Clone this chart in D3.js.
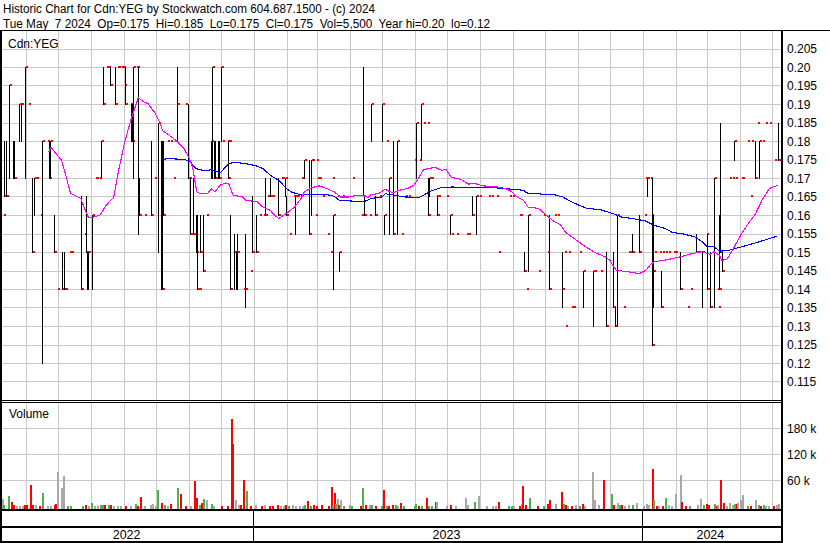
<!DOCTYPE html>
<html><head><meta charset="utf-8">
<script src="https://cdn.jsdelivr.net/npm/d3@7"></script>
<style>
body{margin:0;background:#fff}
svg{display:block}
text{font-family:"Liberation Sans",Arial,sans-serif;fill:#000}
</style>
</head><body>
<svg id="c" width="830" height="543"></svg>
<script>
const headerLine1 = "Historic Chart for Cdn:YEG by Stockwatch.com 604.687.1500 - (c) 2024";
const headerLine2 = "Tue May  7 2024  Op=0.175  Hi=0.185  Lo=0.175  Cl=0.175  Vol=5,500  Year hi=0.20  lo=0.12";
const symbolLabel = "Cdn:YEG";
const volumeLabel = "Volume";
const priceTicks = [0.205,0.20,0.195,0.19,0.185,0.18,0.175,0.17,0.165,0.16,0.155,0.15,0.145,0.14,0.135,0.13,0.125,0.12,0.115];
const priceTickLabels = ["0.205","0.20","0.195","0.19","0.185","0.18","0.175","0.17","0.165","0.16","0.155","0.15","0.145","0.14","0.135","0.13","0.125","0.12","0.115"];
const volumeTicks = [60000,120000,180000];
const volumeTickLabels = ["60 k","120 k","180 k"];
const yearLabels = ["2022","2023","2024"];

// [date, high, low, close]
const priceBars = [
["2022-05-10",.16,.16,.16],["2022-05-11",.18,.165,.165],["2022-05-13",.18,.165,.165],["2022-05-16",.195,.17,.195],
["2022-05-19",.18,.17,.17],["2022-05-20",.18,.17,.17],["2022-05-25",.19,.18,.19],["2022-05-27",.19,.18,.19],
["2022-05-31",.20,.17,.20],["2022-06-02",.19,.19,.19],["2022-06-06",.17,.15,.15],["2022-06-08",.17,.16,.17],
["2022-06-09",.17,.17,.17],["2022-06-10",.17,.17,.17],["2022-06-14",.16,.16,.16],["2022-06-16",.18,.12,.18],
["2022-06-20",.18,.18,.18],["2022-06-22",.18,.17,.17],["2022-06-23",.18,.17,.18],["2022-06-27",.16,.15,.15],
["2022-06-30",.14,.14,.14],["2022-07-04",.15,.14,.14],["2022-07-06",.15,.14,.14],["2022-07-07",.14,.14,.14],
["2022-07-11",.15,.15,.15],["2022-07-13",.15,.15,.15],["2022-07-22",.165,.14,.14],["2022-07-25",.155,.155,.155],
["2022-07-27",.165,.15,.15],["2022-07-28",.15,.14,.15],["2022-07-29",.15,.14,.15],["2022-08-02",.16,.14,.16],
["2022-08-04",.17,.17,.17],["2022-08-05",.17,.17,.17],["2022-08-08",.17,.17,.17],["2022-08-10",.18,.17,.18],
["2022-08-12",.20,.19,.19],["2022-08-15",.20,.20,.20],["2022-08-16",.20,.20,.20],["2022-08-17",.20,.20,.20],
["2022-08-18",.20,.195,.195],["2022-08-23",.20,.19,.19],["2022-08-25",.20,.20,.20],["2022-08-26",.20,.20,.20],
["2022-08-29",.20,.20,.20],["2022-08-31",.20,.20,.20],["2022-09-01",.195,.195,.195],["2022-09-02",.20,.19,.19],
["2022-09-06",.19,.19,.19],["2022-09-07",.19,.18,.18],["2022-09-08",.19,.18,.18],["2022-09-09",.20,.17,.20],
["2022-09-12",.20,.20,.20],["2022-09-13",.20,.20,.20],["2022-09-14",.20,.155,.16],["2022-09-15",.17,.16,.16],
["2022-09-19",.16,.16,.16],["2022-09-26",.18,.16,.16],["2022-09-29",.17,.17,.17],["2022-10-03",.185,.15,.185],
["2022-10-05",.18,.14,.14],["2022-10-06",.18,.14,.14],["2022-10-07",.18,.16,.16],["2022-10-11",.18,.18,.18],
["2022-10-14",.18,.18,.18],["2022-10-17",.17,.17,.17],["2022-10-18",.18,.18,.18],["2022-10-20",.20,.18,.19],
["2022-10-28",.19,.19,.19],["2022-10-31",.19,.17,.17],["2022-11-01",.17,.17,.17],["2022-11-02",.17,.155,.155],
["2022-11-04",.17,.155,.155],["2022-11-07",.16,.15,.15],["2022-11-08",.16,.14,.14],["2022-11-10",.14,.14,.14],
["2022-11-11",.16,.15,.15],["2022-11-14",.16,.145,.145],["2022-11-17",.16,.16,.16],["2022-11-21",.18,.17,.18],
["2022-11-22",.20,.17,.20],["2022-11-24",.18,.17,.17],["2022-11-25",.18,.17,.17],["2022-11-28",.18,.17,.17],
["2022-11-29",.18,.17,.17],["2022-12-01",.20,.18,.20],["2022-12-02",.18,.18,.18],["2022-12-06",.18,.18,.18],
["2022-12-07",.18,.17,.17],["2022-12-08",.18,.18,.18],["2022-12-09",.16,.14,.14],["2022-12-12",.15,.15,.15],
["2022-12-13",.155,.14,.15],["2022-12-15",.15,.14,.15],["2022-12-16",.155,.14,.15],["2022-12-21",.14,.14,.14],
["2022-12-23",.155,.135,.14],["2022-12-28",.145,.145,.145],["2022-12-30",.165,.15,.15],["2023-01-03",.16,.15,.15],
["2023-01-05",.16,.16,.16],["2023-01-09",.16,.16,.16],["2023-01-11",.17,.16,.16],["2023-01-13",.165,.165,.165],
["2023-01-16",.17,.165,.165],["2023-01-18",.165,.165,.165],["2023-01-23",.17,.16,.16],["2023-01-26",.17,.17,.17],
["2023-01-27",.17,.17,.17],["2023-01-30",.17,.165,.17],["2023-01-31",.165,.16,.16],["2023-02-03",.155,.155,.155],
["2023-02-06",.165,.165,.165],["2023-02-07",.165,.165,.165],["2023-02-08",.165,.155,.165],["2023-02-10",.165,.165,.165],
["2023-02-14",.17,.17,.17],["2023-02-17",.175,.17,.175],["2023-02-21",.175,.155,.155],["2023-02-23",.175,.16,.175],
["2023-02-24",.175,.175,.175],["2023-02-27",.16,.16,.16],["2023-02-28",.175,.175,.175],["2023-03-01",.17,.17,.17],
["2023-03-03",.17,.17,.17],["2023-03-06",.165,.165,.165],["2023-03-10",.155,.155,.155],["2023-03-13",.15,.15,.15],
["2023-03-15",.17,.17,.17],["2023-03-16",.16,.14,.16],["2023-03-20",.165,.165,.165],["2023-03-22",.15,.145,.15],
["2023-03-24",.165,.165,.165],["2023-04-03",.17,.17,.17],["2023-04-11",.16,.16,.16],["2023-04-13",.20,.165,.165],
["2023-04-14",.165,.16,.16],["2023-04-19",.16,.16,.16],["2023-04-21",.19,.18,.19],["2023-04-24",.165,.16,.16],
["2023-04-28",.165,.165,.165],["2023-05-01",.19,.18,.19],["2023-05-03",.16,.155,.16],["2023-05-05",.18,.18,.18],
["2023-05-08",.17,.155,.17],["2023-05-11",.18,.155,.155],["2023-05-15",.18,.155,.18],["2023-05-19",.155,.155,.155],
["2023-05-23",.165,.165,.165],["2023-05-25",.165,.165,.165],["2023-05-31",.175,.175,.175],["2023-06-02",.185,.17,.185],
["2023-06-05",.175,.175,.175],["2023-06-07",.19,.175,.19],["2023-06-09",.185,.185,.185],["2023-06-12",.185,.185,.185],
["2023-06-13",.17,.16,.16],["2023-06-14",.17,.165,.17],["2023-06-15",.17,.17,.17],["2023-06-16",.17,.17,.17],
["2023-06-21",.165,.165,.165],["2023-06-22",.165,.16,.16],["2023-06-23",.165,.165,.165],["2023-06-30",.165,.165,.165],
["2023-07-04",.16,.155,.16],["2023-07-05",.155,.155,.155],["2023-07-10",.155,.155,.155],["2023-07-19",.155,.155,.155],
["2023-07-21",.155,.155,.155],["2023-07-25",.165,.16,.16],["2023-07-28",.165,.155,.165],["2023-07-31",.165,.165,.165],
["2023-08-09",.165,.165,.165],["2023-08-11",.165,.165,.165],["2023-08-16",.165,.165,.165],["2023-08-18",.15,.15,.15],
["2023-08-28",.165,.165,.165],["2023-08-31",.165,.165,.165],["2023-09-07",.16,.16,.16],["2023-09-08",.16,.16,.16],
["2023-09-11",.15,.145,.145],["2023-09-13",.14,.14,.14],["2023-09-15",.16,.145,.16],["2023-09-25",.145,.145,.145],
["2023-09-29",.16,.16,.16],["2023-10-03",.15,.15,.15],["2023-10-05",.16,.14,.14],["2023-10-10",.16,.16,.16],
["2023-10-12",.16,.16,.16],["2023-10-17",.15,.135,.14],["2023-10-19",.15,.15,.15],["2023-10-20",.13,.13,.13],
["2023-10-23",.15,.15,.15],["2023-10-26",.135,.135,.135],["2023-10-27",.135,.135,.135],["2023-11-02",.15,.15,.15],
["2023-11-06",.145,.135,.145],["2023-11-15",.145,.13,.145],["2023-11-16",.145,.145,.145],["2023-11-22",.145,.145,.145],
["2023-11-27",.15,.13,.13],["2023-12-04",.15,.135,.135],["2023-12-06",.135,.13,.13],["2023-12-08",.16,.13,.16],
["2023-12-13",.135,.135,.135],["2023-12-18",.15,.15,.15],["2023-12-20",.15,.15,.15],["2023-12-22",.155,.15,.15],
["2023-12-28",.16,.15,.15],["2024-01-02",.16,.16,.16],["2024-01-03",.17,.17,.17],["2024-01-05",.17,.165,.17],
["2024-01-08",.17,.17,.17],["2024-01-09",.16,.16,.16],["2024-01-10",.17,.125,.125],["2024-01-11",.16,.135,.145],
["2024-01-12",.15,.15,.15],["2024-01-16",.15,.15,.15],["2024-01-18",.145,.135,.135],["2024-01-19",.15,.15,.15],
["2024-01-22",.15,.15,.15],["2024-01-25",.15,.15,.15],["2024-01-29",.15,.15,.15],["2024-01-31",.15,.15,.15],
["2024-02-05",.15,.14,.14],["2024-02-12",.135,.135,.135],["2024-02-14",.14,.14,.14],["2024-02-20",.155,.15,.15],
["2024-02-22",.15,.15,.15],["2024-02-26",.15,.135,.15],["2024-02-29",.155,.155,.155],["2024-03-01",.155,.14,.14],
["2024-03-04",.15,.135,.135],["2024-03-06",.15,.15,.15],["2024-03-08",.17,.135,.17],["2024-03-11",.14,.14,.14],
["2024-03-12",.135,.135,.135],["2024-03-13",.16,.14,.14],["2024-03-14",.185,.15,.15],["2024-03-15",.15,.145,.145],
["2024-03-22",.17,.17,.17],["2024-03-25",.17,.17,.17],["2024-03-27",.18,.175,.18],["2024-03-28",.17,.17,.17],
["2024-04-02",.17,.17,.17],["2024-04-03",.17,.17,.17],["2024-04-08",.18,.18,.18],["2024-04-11",.165,.165,.165],
["2024-04-12",.18,.18,.18],["2024-04-15",.18,.17,.17],["2024-04-17",.185,.185,.185],["2024-04-19",.18,.17,.18],
["2024-04-22",.18,.18,.18],["2024-04-25",.185,.185,.185],["2024-04-29",.185,.185,.185],["2024-05-03",.175,.175,.175],
["2024-05-07",.185,.175,.175]
];

// short moving average (magenta)
const maShort = [
["2022-06-22",.1772],["2022-06-24",.1784],["2022-07-04",.1749],["2022-07-08",.1708],["2022-07-12",.1664],["2022-07-13",.1659],
["2022-07-22",.1646],["2022-07-25",.1623],["2022-07-29",.1596],["2022-08-02",.1595],["2022-08-09",.1601],["2022-08-15",.1628],
["2022-08-22",.1650],["2022-08-26",.1714],["2022-09-01",.1795],["2022-09-07",.1858],["2022-09-14",.1918],["2022-09-19",.1907],
["2022-09-23",.1903],["2022-09-30",.1876],["2022-10-04",.1853],["2022-10-07",.1829],["2022-10-13",.1817],["2022-10-19",.1804],
["2022-10-27",.1781],["2022-11-01",.1754],["2022-11-04",.1731],["2022-11-08",.1664],["2022-11-11",.1659],["2022-11-18",.1659],
["2022-11-22",.1673],["2022-11-25",.1664],["2022-11-30",.1682],["2022-12-05",.1688],["2022-12-08",.1686],["2022-12-12",.1655],
["2022-12-21",.1650],["2022-12-24",.1641],["2023-01-04",.1637],["2023-01-09",.1623],["2023-01-16",.1614],["2023-01-20",.1601],
["2023-01-24",.1592],["2023-01-31",.1605],["2023-02-08",.1623],["2023-02-14",.1646],["2023-02-17",.1664],["2023-02-24",.1675],
["2023-03-03",.1680],["2023-03-10",.1673],["2023-03-17",.1664],["2023-03-23",.1650],["2023-03-31",.1650],["2023-04-05",.1653],
["2023-04-13",.1653],["2023-04-18",.1649],["2023-04-21",.1657],["2023-04-28",.1659],["2023-05-04",.1671],["2023-05-11",.1661],
["2023-05-17",.1668],["2023-05-25",.1673],["2023-05-31",.1682],["2023-06-05",.1704],["2023-06-09",.1724],["2023-06-14",.1727],
["2023-06-20",.1730],["2023-06-26",.1722],["2023-06-30",.1725],["2023-07-05",.1703],["2023-07-14",.1698],["2023-07-21",.1685],
["2023-07-28",.1686],["2023-08-04",.1680],["2023-08-11",.1679],["2023-08-18",.1677],["2023-08-25",.1673],["2023-08-31",.1664],
["2023-09-05",.1650],["2023-09-11",.1641],["2023-09-15",.1623],["2023-09-25",.1619],["2023-10-02",.1602],["2023-10-09",.1585],
["2023-10-16",.1574],["2023-10-20",.1556],["2023-10-27",.1541],["2023-11-06",.1520],["2023-11-17",.1500],["2023-11-27",.1488],
["2023-12-01",.1479],["2023-12-07",.1452],["2023-12-18",.1448],["2023-12-29",.1443],["2024-01-04",.1452],["2024-01-09",.1470],
["2024-01-12",.1475],["2024-01-25",.1481],["2024-02-05",.1488],["2024-02-16",.1497],["2024-02-26",.1502],["2024-03-04",.1495],
["2024-03-08",.1502],["2024-03-13",.1493],["2024-03-15",.1479],["2024-03-20",.1481],["2024-03-27",.1515],["2024-04-01",.1542],
["2024-04-08",.1574],["2024-04-16",.1605],["2024-04-22",.1641],["2024-04-29",.1673],["2024-05-07",.1682]
];

// long moving average (blue)
const maLong = [
["2022-10-06",.1751],["2022-10-13",.1754],["2022-10-28",.1751],["2022-11-02",.1745],["2022-11-07",.1727],["2022-11-14",.1722],
["2022-11-18",.1722],["2022-11-22",.1724],["2022-11-30",.1715],["2022-12-08",.1741],["2022-12-14",.1743],["2022-12-23",.1741],
["2023-01-03",.1734],["2023-01-09",.1727],["2023-01-16",.1709],["2023-01-25",.1693],["2023-01-31",.1673],["2023-02-06",.1662],
["2023-02-15",.1655],["2023-02-27",.1658],["2023-03-09",.1657],["2023-03-17",.1652],["2023-03-22",.1641],["2023-04-03",.1639],
["2023-04-14",.1637],["2023-04-21",.1646],["2023-05-01",.1650],["2023-05-04",.1659],["2023-05-12",.1655],["2023-05-23",.1650],
["2023-06-05",.1649],["2023-06-09",.1655],["2023-06-16",.1666],["2023-06-26",.1676],["2023-07-06",.1677],["2023-07-18",.1676],
["2023-08-11",.1676],["2023-08-31",.1671],["2023-09-11",.1668],["2023-09-14",.1661],["2023-09-22",.1659],["2023-10-03",.1657],
["2023-10-10",.1656],["2023-10-18",.1650],["2023-10-26",.1637],["2023-11-02",.1628],["2023-11-10",.1619],["2023-11-22",.1616],
["2023-12-04",.1605],["2023-12-12",.1596],["2023-12-22",.1592],["2024-01-04",.1585],["2024-01-11",.1574],["2024-01-22",.1565],
["2024-01-29",.1554],["2024-02-07",.1551],["2024-02-19",.1542],["2024-02-26",.1529],["2024-03-01",.1517],["2024-03-08",.1515],
["2024-03-13",.1504],["2024-03-22",.1506],["2024-03-28",.1511],["2024-04-05",.1517],["2024-04-16",.1526],["2024-04-26",.1535],
["2024-05-06",.1544]
];

// [date, volume, direction] u = up (green), d = down (red), f = unchanged (grey)
const volumeBars = [
["2022-05-09",18000,"f"],["2022-05-10",2000,"u"],["2022-05-15",24000,"u"],["2022-05-17",10000,"d"],["2022-05-19",2000,"d"],
["2022-05-22",1500,"f"],["2022-05-25",1500,"f"],["2022-05-28",1500,"f"],["2022-05-30",2500,"d"],["2022-06-01",2500,"d"],
["2022-06-04",49000,"d"],["2022-06-06",2500,"d"],["2022-06-09",2000,"f"],["2022-06-13",1500,"d"],["2022-06-16",31000,"u"],
["2022-06-20",1500,"f"],["2022-06-23",1500,"f"],["2022-06-27",2500,"d"],["2022-06-28",5000,"d"],["2022-06-30",79000,"f"],
["2022-07-03",42000,"f"],["2022-07-05",70000,"f"],["2022-07-09",1000,"u"],["2022-07-12",1000,"u"],["2022-07-23",1000,"u"],
["2022-07-26",2500,"d"],["2022-07-29",1000,"f"],["2022-08-01",8000,"u"],["2022-08-03",1500,"f"],["2022-08-06",1500,"f"],
["2022-08-09",3000,"u"],["2022-08-11",3000,"u"],["2022-08-13",2000,"d"],["2022-08-17",3000,"u"],["2022-08-18",3000,"d"],
["2022-08-21",1500,"f"],["2022-08-25",1500,"f"],["2022-08-28",1500,"f"],["2022-09-02",1500,"d"],["2022-09-06",1500,"f"],
["2022-09-11",5000,"u"],["2022-09-13",1500,"d"],["2022-09-16",22000,"d"],["2022-09-19",1500,"f"],["2022-09-25",2000,"f"],
["2022-09-27",5000,"f"],["2022-09-30",1500,"f"],["2022-10-02",37500,"u"],["2022-10-05",7000,"d"],["2022-10-08",2000,"u"],
["2022-10-11",1500,"f"],["2022-10-14",5000,"d"],["2022-10-20",42000,"u"],["2022-10-23",28000,"d"],["2022-10-28",1500,"d"],
["2022-11-02",1500,"f"],["2022-11-05",59000,"d"],["2022-11-07",18500,"d"],["2022-11-10",2500,"u"],["2022-11-12",8000,"d"],
["2022-11-14",16000,"u"],["2022-11-17",14000,"f"],["2022-11-21",5000,"u"],["2022-11-23",1500,"f"],["2022-12-01",1500,"d"],
["2022-12-06",1500,"d"],["2022-12-10",201000,"d"],["2022-12-11",144000,"d"],["2022-12-14",14000,"f"],["2022-12-17",2000,"f"],
["2022-12-19",4000,"d"],["2022-12-21",60700,"d"],["2022-12-24",35000,"u"],["2022-12-28",1500,"d"],["2023-01-02",2000,"f"],
["2023-01-07",1500,"d"],["2023-01-10",4000,"f"],["2023-01-15",1500,"d"],["2023-01-18",1500,"d"],["2023-01-22",2500,"d"],
["2023-01-25",1500,"f"],["2023-01-28",1500,"f"],["2023-01-30",2500,"d"],["2023-02-02",1000,"u"],["2023-02-05",2500,"f"],
["2023-02-08",1500,"f"],["2023-02-12",1000,"f"],["2023-02-15",1000,"f"],["2023-02-17",2000,"u"],["2023-02-20",13000,"d"],
["2023-02-22",1500,"u"],["2023-02-25",2500,"d"],["2023-02-28",1500,"d"],["2023-03-05",2500,"d"],["2023-03-11",800,"d"],
["2023-03-14",44600,"d"],["2023-03-15",1500,"u"],["2023-03-17",31500,"d"],["2023-03-18",5000,"u"],["2023-03-20",18000,"f"],
["2023-03-21",2500,"d"],["2023-03-23",15000,"f"],["2023-03-25",1000,"u"],["2023-03-31",2500,"f"],["2023-04-02",1000,"u"],
["2023-04-10",800,"d"],["2023-04-12",42000,"u"],["2023-04-15",4000,"d"],["2023-04-19",2500,"f"],["2023-04-21",4000,"u"],
["2023-04-24",1500,"d"],["2023-04-30",800,"u"],["2023-05-02",37600,"d"],["2023-05-05",1000,"u"],["2023-05-07",1000,"d"],
["2023-05-10",3500,"d"],["2023-05-13",2000,"u"],["2023-05-15",1000,"f"],["2023-05-18",8000,"d"],["2023-05-21",800,"u"],
["2023-05-31",1000,"u"],["2023-06-01",5000,"u"],["2023-06-04",1000,"d"],["2023-06-07",1500,"u"],["2023-06-11",19000,"d"],
["2023-06-13",800,"u"],["2023-06-16",800,"u"],["2023-06-20",10000,"d"],["2023-06-21",10000,"f"],["2023-06-30",1000,"f"],
["2023-07-04",3500,"d"],["2023-07-09",1000,"f"],["2023-07-18",19000,"f"],["2023-07-20",2000,"f"],["2023-07-26",9500,"u"],
["2023-07-30",23800,"f"],["2023-08-07",800,"f"],["2023-08-12",800,"f"],["2023-08-15",800,"f"],["2023-08-18",11000,"d"],
["2023-08-27",800,"u"],["2023-08-30",800,"u"],["2023-09-01",800,"f"],["2023-09-07",800,"d"],["2023-09-09",4500,"f"],
["2023-09-10",48000,"d"],["2023-09-12",3500,"d"],["2023-09-16",19000,"u"],["2023-09-24",800,"d"],["2023-09-29",800,"u"],
["2023-10-03",4500,"d"],["2023-10-05",14000,"d"],["2023-10-11",5000,"f"],["2023-10-16",33000,"d"],["2023-10-18",5000,"u"],
["2023-10-20",2000,"d"],["2023-10-22",1500,"f"],["2023-10-26",1500,"d"],["2023-10-29",3000,"f"],["2023-11-02",800,"u"],
["2023-11-05",5000,"d"],["2023-11-07",1500,"f"],["2023-11-14",80000,"f"],["2023-11-16",14000,"f"],["2023-11-20",4000,"f"],
["2023-11-25",60700,"d"],["2023-12-02",28000,"u"],["2023-12-04",2000,"d"],["2023-12-08",7000,"f"],["2023-12-10",2000,"u"],
["2023-12-12",4000,"d"],["2023-12-14",1500,"f"],["2023-12-18",3000,"f"],["2023-12-22",3000,"u"],["2023-12-26",7000,"f"],
["2024-01-01",1500,"f"],["2024-01-04",5000,"f"],["2024-01-06",2500,"f"],["2024-01-10",86000,"d"],["2024-01-11",15000,"u"],
["2024-01-13",1500,"d"],["2024-01-15",1500,"f"],["2024-01-19",1500,"d"],["2024-01-22",19000,"u"],["2024-01-25",2000,"f"],
["2024-01-28",1500,"f"],["2024-01-31",28000,"f"],["2024-02-05",72000,"f"],["2024-02-06",11000,"d"],["2024-02-10",1500,"d"],
["2024-02-13",1500,"u"],["2024-02-21",3000,"f"],["2024-02-24",18000,"f"],["2024-02-27",4000,"u"],["2024-02-29",5000,"d"],
["2024-03-02",2000,"d"],["2024-03-08",5000,"u"],["2024-03-10",1500,"d"],["2024-03-11",3000,"f"],["2024-03-14",60700,"d"],
["2024-03-16",6500,"d"],["2024-03-19",1500,"f"],["2024-03-22",7000,"f"],["2024-03-25",3000,"f"],["2024-03-27",5000,"u"],
["2024-03-29",5000,"d"],["2024-03-30",7000,"f"],["2024-04-01",15000,"f"],["2024-04-03",26000,"f"],["2024-04-08",1000,"u"],
["2024-04-11",1500,"d"],["2024-04-15",14000,"f"],["2024-04-18",3000,"u"],["2024-04-20",1500,"d"],["2024-04-23",3000,"u"],
["2024-04-25",1500,"f"],["2024-04-28",1500,"f"],["2024-05-02",800,"d"],["2024-05-05",3000,"f"],["2024-05-07",5500,"f"]
];

const volColors = {u:"#4cb34c", d:"#ff0000", f:"#a8a8a8"};

// ---------- drawing ----------
const svg = d3.select("#c");
const parse = d3.timeParse("%Y-%m-%d");
const startDate = parse("2022-05-09"), endDate = parse("2024-05-08");
const PL = 2, PR = 781;            // plot left / right
const PT = 31, PB = 400;           // price panel
const VT = 403, VB = 509;          // volume panel
const x = d3.scaleTime().domain([startDate, endDate]).range([2, 779]);
const yP = d3.scaleLinear().domain([0.11, 0.21]).range([400.5, 30.5]);
const yV = d3.scaleLinear().domain([0, 240000]).range([506.3, 402.3]);
const px = d => Math.round(x(d));

svg.append("rect").attr("width",830).attr("height",543).attr("fill","#fff");

const defs = svg.append("defs");
defs.append("clipPath").attr("id","cp").append("rect").attr("x",PL).attr("y",PT).attr("width",PR-PL).attr("height",PB-PT);
defs.append("clipPath").attr("id","cv").append("rect").attr("x",PL).attr("y",VT).attr("width",PR-PL).attr("height",VB-VT);

// grid
const grid = svg.append("g").attr("stroke","#c8c8c8").attr("stroke-width",1).attr("shape-rendering","crispEdges");
const months = d3.timeMonth.range(d3.timeMonth.ceil(startDate), endDate);
months.forEach(m => {
  const gx = px(m) + 0.5;
  grid.append("line").attr("x1",gx).attr("x2",gx).attr("y1",PT).attr("y2",PB);
  grid.append("line").attr("x1",gx).attr("x2",gx).attr("y1",VT).attr("y2",VB);
});
priceTicks.forEach(v => {
  const gy = Math.floor(yP(v)) + 0.5;
  grid.append("line").attr("x1",PL).attr("x2",PR).attr("y1",gy).attr("y2",gy);
});
volumeTicks.forEach(v => {
  const gy = Math.floor(yV(v)) + 0.5;
  grid.append("line").attr("x1",PL).attr("x2",PR).attr("y1",gy).attr("y2",gy);
});

// price bars
const pg = svg.append("g").attr("clip-path","url(#cp)").attr("shape-rendering","crispEdges");
priceBars.forEach(([ds,h,l,c]) => {
  const d = parse(ds), bx = px(d);
  if (h !== l) {
    pg.append("line").attr("x1",bx+0.5).attr("x2",bx+0.5)
      .attr("y1",Math.floor(yP(h))).attr("y2",Math.floor(yP(l))+1)
      .attr("stroke","#000").attr("stroke-width",1);
  }
  pg.append("rect").attr("x",bx+1).attr("y",Math.floor(yP(c))-1).attr("width",2).attr("height",2).attr("fill","#ff0000");
});

// moving averages
const line = d3.line().x(d => x(parse(d[0]))).y(d => yP(d[1]));
pg.append("path").datum(maLong).attr("d",line).attr("fill","none").attr("stroke","#0000ff").attr("stroke-width",1.1);
pg.append("path").datum(maShort).attr("d",line).attr("fill","none").attr("stroke","#ff00ff").attr("stroke-width",1.1);

// volume bars
const vg = svg.append("g").attr("clip-path","url(#cv)").attr("shape-rendering","crispEdges");
volumeBars.forEach(([ds,v,dir]) => {
  const top = Math.round(yV(v));
  vg.append("rect").attr("x",px(parse(ds))).attr("y",top).attr("width",2).attr("height",VB-top)
    .attr("fill",volColors[dir]);
});

// axes (right side)
const pAxis = d3.axisRight(yP).tickValues(priceTicks).tickFormat((d,i)=>priceTickLabels[i]).tickSize(0).tickPadding(6);
const pa = svg.append("g").attr("transform",`translate(${PR},0)`).call(pAxis);
pa.select(".domain").remove();
pa.selectAll("text").attr("font-size",12).attr("font-family","Liberation Sans, Arial, sans-serif").attr("fill","#000");

const vAxis = d3.axisRight(yV).tickValues(volumeTicks).tickFormat((d,i)=>volumeTickLabels[i]).tickSize(0).tickPadding(6);
const va = svg.append("g").attr("transform",`translate(${PR},0)`).call(vAxis);
va.select(".domain").remove();
va.selectAll("text").attr("font-size",12).attr("font-family","Liberation Sans, Arial, sans-serif").attr("fill","#000");

// frame lines
const frame = svg.append("g").attr("fill","#000").attr("shape-rendering","crispEdges");
frame.append("rect").attr("x",0).attr("y",30).attr("width",830).attr("height",1);
frame.append("rect").attr("x",0).attr("y",30).attr("width",2).attr("height",513);
frame.append("rect").attr("x",781).attr("y",30).attr("width",2).attr("height",513);
frame.append("rect").attr("x",0).attr("y",400).attr("width",781).attr("height",1);
frame.append("rect").attr("x",0).attr("y",402).attr("width",781).attr("height",1);
frame.append("rect").attr("x",0).attr("y",509).attr("width",781).attr("height",2);
frame.append("rect").attr("x",0).attr("y",526).attr("width",781).attr("height",2);
frame.append("rect").attr("x",0).attr("y",541).attr("width",783).attr("height",2);

// year separators and labels
const years = [parse("2022-01-01"), parse("2023-01-01"), parse("2024-01-01"), parse("2025-01-01")];
const sepX = years.map(y => Math.max(PL, Math.min(PR, x(d3.timeDay.offset(y,-1)))));
[1,2].forEach(i => {
  frame.append("rect").attr("x",Math.round(sepX[i])).attr("y",511).attr("width",1).attr("height",30);
});
yearLabels.forEach((t,i) => {
  const cx = (sepX[i] + sepX[i+1]) / 2 - 1;
  svg.append("text").attr("x",cx).attr("y",539).attr("text-anchor","middle").attr("font-size",12.5).text(t);
});

// labels
svg.append("text").attr("x",3).attr("y",13).attr("font-size",12.5).attr("textLength",372).attr("lengthAdjust","spacingAndGlyphs")
  .style("white-space","pre").text(headerLine1);
svg.append("text").attr("x",3).attr("y",28).attr("font-size",12.5).attr("textLength",487).attr("lengthAdjust","spacingAndGlyphs")
  .style("white-space","pre").text(headerLine2);
svg.append("text").attr("x",8).attr("y",48).attr("font-size",12).text(symbolLabel);
svg.append("text").attr("x",9).attr("y",418).attr("font-size",12).text(volumeLabel);
</script>
</body></html>
